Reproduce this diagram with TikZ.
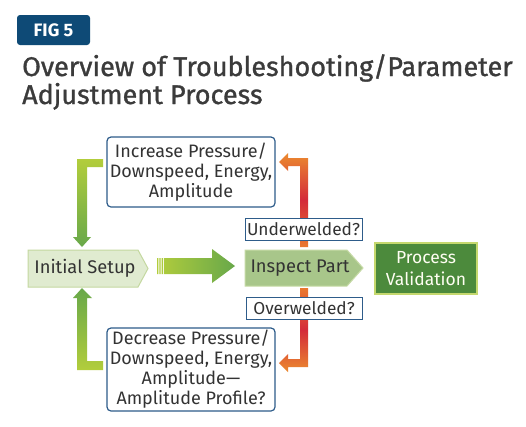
\documentclass[tikz,border=0pt]{standalone}
\usepackage{fontspec}
\setmainfont{Fira Sans}
\newfontfamily\titlefont[FakeBold=1.1]{Fira Sans}
\usetikzlibrary{calc}
\definecolor{tabblue}{HTML}{0E4A76}
\definecolor{titlegray}{HTML}{3B3B3B}
\definecolor{boxblue}{HTML}{2E5C8A}
\definecolor{txtgray}{HTML}{333333}
\definecolor{initfill}{HTML}{E0EBD0}
\definecolor{initborder}{HTML}{C4D8A0}
\definecolor{inspfill}{HTML}{A8C68A}
\definecolor{inspborder}{HTML}{C6DAA6}
\definecolor{pvgreen}{HTML}{4C8A3C}
\definecolor{pvborder}{HTML}{C5D86E}
\definecolor{gyellow}{HTML}{B2CD3C}
\definecolor{ggreen}{HTML}{68A84A}
\definecolor{aorange}{HTML}{EB8A2F}
\definecolor{ared}{HTML}{D42A3A}
\definecolor{aorangeb}{HTML}{E9782E}
\tikzset{
  bluebox/.style={draw=boxblue, line width=1.2pt, rounded corners=4pt, fill=white,
    text=txtgray, align=center, inner sep=0pt, font=\fontsize{18}{20}\selectfont},
  qbox/.style={draw=boxblue, line width=1pt, fill=white, text=txtgray,
    inner sep=0pt, font=\fontsize{17.3}{20}\selectfont},
  stagetext/.style={text=txtgray, inner sep=0pt, font=\fontsize{18.3}{20}\selectfont},
  titletext/.style={anchor=base west, text=titlegray, inner sep=0pt,
    font=\titlefont\fontsize{27}{30}\selectfont},
}
\begin{document}
\begin{tikzpicture}[x=1pt,y=-1pt]
\useasboundingbox (0,0) rectangle (526,426);
\fill[white] (0,0) rectangle (526,426);

% tab and title
\node[fill=tabblue, rounded corners=3pt, minimum width=73pt, minimum height=30pt,
  text=white, inner sep=0pt, font=\fontsize{18}{18}\selectfont\bfseries]
  (tab) at (53.5,30) {FIG 5};
\node[titletext] (title1) at (22,76) {Overview of Troubleshooting/Parameter};
\node[titletext] (title2) at (22,104) {Adjustment Process};

% green feedback arrows
\shade[top color=gyellow, bottom color=ggreen]
  (103,159) -- (77,159) -- (77,237) -- (73,237) -- (82,247) -- (91,237)
  -- (87,237) -- (87,167) -- (103,167) -- cycle;
\shade[top color=ggreen, bottom color=gyellow]
  (82,288) -- (92,298) -- (87,298) -- (87,361) -- (103,361) -- (103,370)
  -- (77,370) -- (77,298) -- (73,298) -- cycle;

% red/orange arrows
\shade[top color=aorange, bottom color=aorangeb, middle color=ared]
  (300,247) -- (308,247) -- (308,158) -- (288,158) -- (288,153) -- (279,162)
  -- (288,171) -- (288,166) -- (300,166) -- cycle;
\shade[top color=aorangeb, bottom color=aorange, middle color=ared]
  (300,288) -- (308,288) -- (308,367) -- (288,367) -- (288,372) -- (279,363)
  -- (288,354) -- (288,359) -- (300,359) -- cycle;

% big forward arrow
\shade[left color=gyellow, right color=ggreen]
  (157,258) rectangle (158.3,274)
  (159.3,258) rectangle (160.6,274)
  (161.6,258) rectangle (162.9,274)
  (163.8,258) -- (212,258) -- (212,249) -- (235,266) -- (212,283) -- (212,274)
  -- (163.8,274) -- cycle;

% stages
\filldraw[fill=initfill, draw=initborder, line width=1pt]
  (28,250) -- (138,250) -- (148,268.5) -- (138,287) -- (28,287) -- cycle;
\node[stagetext] (init) at (85,268.5) {Initial Setup};
\filldraw[fill=inspfill, draw=inspborder, line width=1pt]
  (245,250) -- (347,250) -- (363,268) -- (347,286) -- (245,286) -- cycle;
\node[stagetext] (insp) at (300,268) {Inspect Part};
\node[draw=pvborder, line width=2pt, fill=pvgreen, text=white!95!yellow,
  minimum width=102pt, minimum height=51pt, align=center, inner sep=0pt,
  font=\fontsize{17.5}{22}\selectfont] (pv) at (426,268.5) {Process\\Validation};

% adjustment boxes
\node[bluebox, minimum width=168pt, minimum height=70pt] (inc) at (191,172)
  {Increase Pressure/\\Downspeed, Energy,\\Amplitude};
\node[bluebox, minimum width=168pt, minimum height=83pt] (dec) at (191,369.5)
  {Decrease Pressure/\\Downspeed, Energy,\\Amplitude—\\Amplitude Profile?};

% question labels
\node[qbox, minimum width=117pt, minimum height=22pt] (under) at (303.5,229) {Underwelded?};
\node[qbox, minimum width=116pt, minimum height=22pt] (over) at (304,308) {Overwelded?};
\end{tikzpicture}
\end{document}
